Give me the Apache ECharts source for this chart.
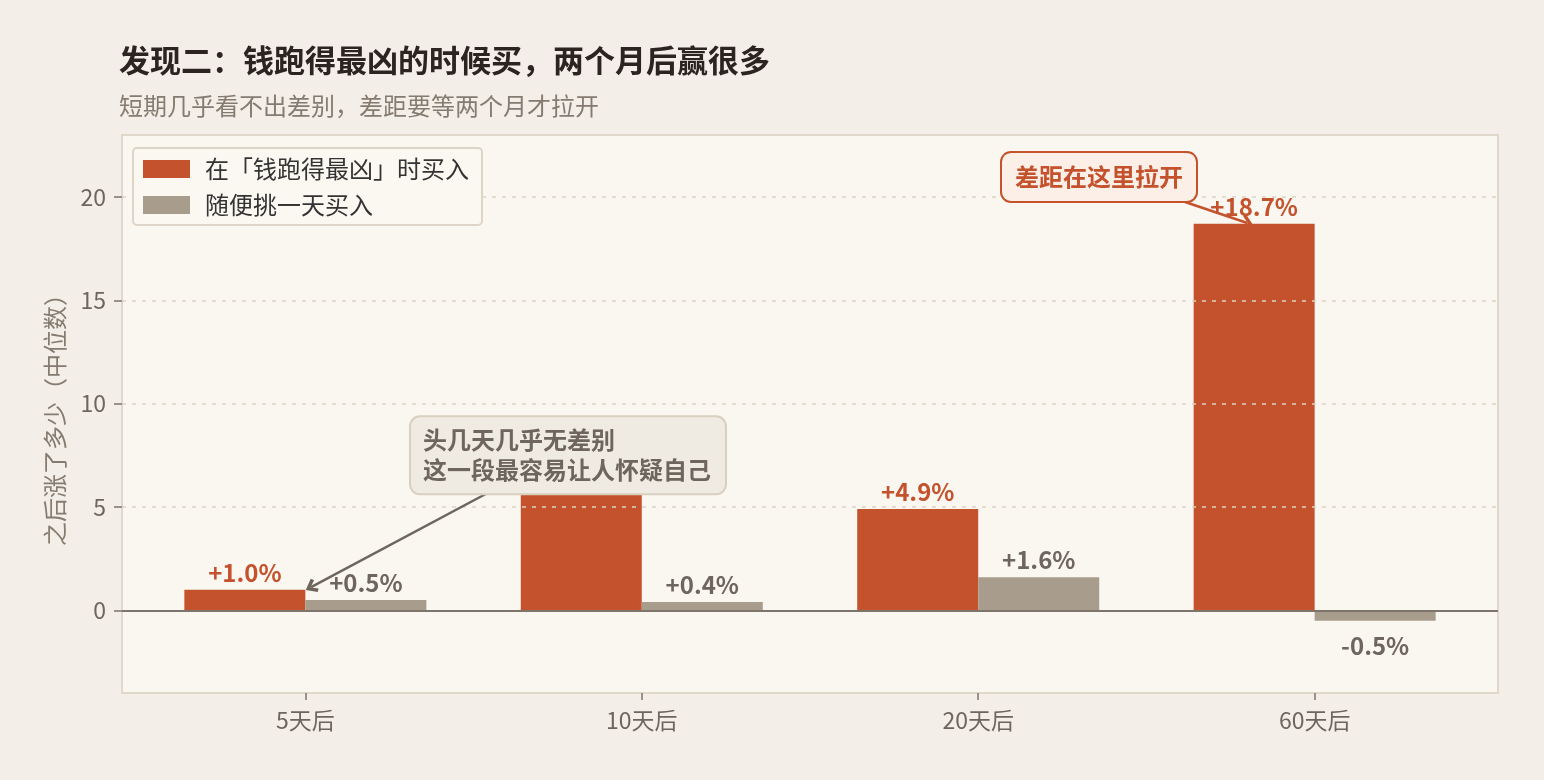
<!DOCTYPE html>
<html><head><meta charset="utf-8">
<script src="https://cdn.jsdelivr.net/npm/echarts@6/dist/echarts.min.js"></script>
<style>html,body{margin:0;padding:0;background:#f3efe8;}#c{width:1544px;height:780px;}</style>
</head><body><div id="c"></div>
<script>
const categories = ['5天后', '10天后', '20天后', '60天后'];
const seriesNames = ['在「钱跑得最凶」时买入', '随便挑一天买入'];
const peakBuy = [1.0, 6.8, 4.9, 18.7];
const randomBuy = [0.5, 0.4, 1.6, -0.5];
const yTicks = [0, 5, 10, 15, 20];
const gridValues = [5, 10, 15, 20];
const title = '发现二：钱跑得最凶的时候买，两个月后赢很多';
const subtitle = '短期几乎看不出差别，差距要等两个月才拉开';
const yName = '之后涨了多少（中位数）';
const note1 = '头几天几乎无差别\n这一段最容易让人怀疑自己';
const note2 = '差距在这里拉开';

const FONT = '"Noto Sans CJK SC","Noto Sans",sans-serif';
const ORANGE = '#c4532d', GRAY = '#a89c8c', TXT = '#6e665e';
const CHEVRON = 'path://M5,0 L10,8 L8.2,10 L5,4.4 L1.8,10 L0,8 Z';
const fmt = v => (v > 0 ? '+' : '') + v.toFixed(1) + '%';
const xIdx = categories.map((c, i) => i);

function barData(vals) {
  return vals.map((v, i) => ({
    value: [i, v],
    label: { position: v < 0 ? 'bottom' : 'top', distance: v < 0 ? 13 : 5 }
  }));
}

const chart = echarts.init(document.getElementById('c'), null, { renderer: 'canvas' });
chart.setOption({
  backgroundColor: '#f3efe8',
  animation: false,
  textStyle: { fontFamily: FONT },
  title: [
    { text: title, left: 119, top: 45, padding: 0,
      textStyle: { fontSize: 31, fontWeight: 'bold', color: '#2b2420', fontFamily: FONT } },
    { text: subtitle, left: 119, top: 94, padding: 0,
      textStyle: { fontSize: 24, fontWeight: 'normal', color: '#857b70', fontFamily: FONT } }
  ],
  legend: {
    data: seriesNames, orient: 'vertical', left: 133, top: 148, z: 20,
    itemWidth: 47, itemHeight: 18, itemGap: 12,
    padding: [9, 13, 8, 10],
    backgroundColor: '#fbf8f2', borderColor: '#ddd5c7', borderWidth: 2, borderRadius: 4,
    textStyle: { fontSize: 24, color: '#333', fontFamily: FONT, padding: [0, 0, 0, 10] },
    icon: 'rect'
  },
  grid: { left: 122, right: 46, top: 135, bottom: 87, show: true,
    backgroundColor: '#faf7f1', borderColor: '#e0d8ca', borderWidth: 2 },
  xAxis: {
    type: 'value', min: -0.545, max: 3.545,
    axisLine: { show: false, onZero: false },
    splitLine: { show: false },
    axisTick: { show: true, customValues: xIdx, length: 7, lineStyle: { color: '#7d746b', width: 1.5 } },
    axisLabel: { customValues: xIdx, formatter: v => categories[Math.round(v)] || '',
      fontSize: 23, color: TXT, margin: 16, fontFamily: FONT }
  },
  yAxis: {
    type: 'value', min: -4, max: 23,
    name: yName, nameLocation: 'middle', nameRotate: 90, nameGap: 55,
    nameTextStyle: { fontSize: 24, color: '#857b70', fontFamily: FONT },
    axisLine: { show: false, onZero: false },
    splitLine: { show: false },
    axisTick: { show: true, customValues: yTicks, length: 8, lineStyle: { color: '#7d746b', width: 1.5 } },
    axisLabel: { customValues: yTicks, fontSize: 23, color: TXT, margin: 16, fontFamily: FONT }
  },
  series: [
    {
      type: 'scatter', data: [], z: 1, silent: true,
      markLine: { silent: true, symbol: 'none', animation: false,
        label: { show: false },
        lineStyle: { type: [4, 6], color: '#dcd3c4', width: 1.5 },
        data: gridValues.map(v => ({ yAxis: v })) }
    },
    {
      name: seriesNames[0], type: 'bar', barWidth: 121, barGap: '0%', z: 2,
      itemStyle: { color: ORANGE },
      label: { show: true, formatter: p => fmt(p.value[1]), fontSize: 24, fontWeight: 'bold',
        color: ORANGE, fontFamily: FONT },
      data: barData(peakBuy)
    },
    {
      name: seriesNames[1], type: 'bar', barWidth: 121, barGap: '0%', z: 2,
      itemStyle: { color: GRAY },
      label: { show: true, formatter: p => fmt(p.value[1]), fontSize: 24, fontWeight: 'bold',
        color: TXT, fontFamily: FONT },
      data: barData(randomBuy)
    },
    {
      type: 'scatter', data: [], z: 5, silent: true,
      markLine: { silent: true, symbol: 'none', animation: false, label: { show: false },
        lineStyle: { type: 'solid', color: '#7d746b', width: 2 },
        data: [{ yAxis: 0 }] }
    },
    {
      type: 'scatter', data: [], z: 10, silent: true,
      markLine: {
        silent: true, animation: false, label: { show: false },
        symbol: ['none', CHEVRON], symbolSize: [15, 12],
        data: [
          [{ coord: [0.55, 5.75], lineStyle: { color: '#6e655c', width: 2.5, type: 'solid' } },
           { coord: [0.017, 1.12] }],
          [{ coord: [2.615, 19.76], lineStyle: { color: ORANGE, width: 2.5, type: 'solid' } },
           { coord: [2.8, 18.74] }]
        ]
      },
      markPoint: {
        silent: true, animation: false, symbolSize: 0,
        data: [
          { coord: [0.314, 7.5], label: { show: true, position: 'inside', formatter: note1,
              fontSize: 24, fontWeight: 'bold', color: '#6e655c', lineHeight: 30, align: 'left',
              backgroundColor: '#efebe3', borderColor: '#d9cfbf', borderWidth: 2, borderRadius: 9,
              padding: [8, 14, 8, 12], fontFamily: FONT } },
          { coord: [2.359, 20.97], label: { show: true, position: 'inside', formatter: note2,
              fontSize: 24, fontWeight: 'bold', color: ORANGE, lineHeight: 30,
              backgroundColor: '#fbefe7', borderColor: ORANGE, borderWidth: 2, borderRadius: 9,
              padding: [9, 13, 9, 13], fontFamily: FONT } }
        ]
      }
    }
  ]
});
</script></body></html>
